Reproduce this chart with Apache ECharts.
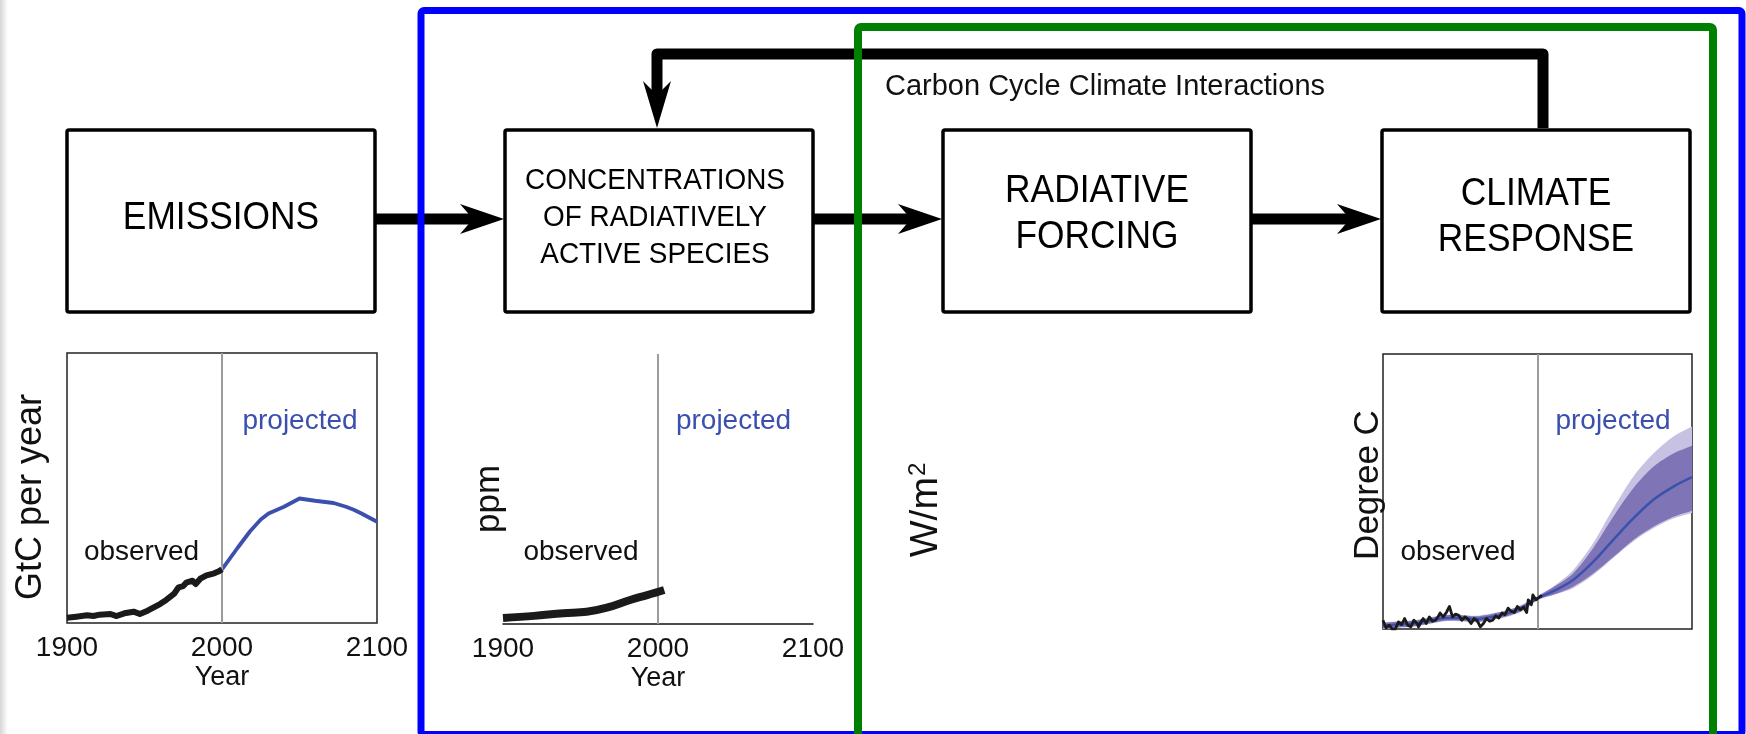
<!DOCTYPE html>
<html>
<head>
<meta charset="utf-8">
<script src="https://cdn.jsdelivr.net/npm/echarts@6/dist/echarts.min.js"></script>
<style>html,body{margin:0;padding:0;background:#fff}#c{width:1746px;height:734px}</style>
</head>
<body>
<div id="c"></div>
<script>
// ---------- DATA ----------
var xTickYears = [1900, 2000, 2100];
// Emissions (GtC per year)
var emisObsYears = [1900,1906,1913,1917,1921,1928,1932,1937,1943,1947,1952,1956,1960,1964,1969,1972,1975,1977,1981,1983,1986,1990,1995,1998,2000];
var emisObsVals  = [0.71,0.84,1.02,0.93,1.11,1.20,0.93,1.29,1.51,1.20,1.64,2.09,2.53,3.07,3.87,4.76,4.93,5.38,5.64,5.20,5.91,6.36,6.62,6.89,7.16];
var emisProjYears = [2000,2010,2018,2025,2030,2040,2050,2060,2072,2080,2085,2090,2100];
var emisProjVals  = [7.16,10.0,12.2,13.8,14.6,15.5,16.6,16.3,16.0,15.5,15.1,14.6,13.5];
// Concentrations (ppm)
var concObsYears = [1900,1920,1939,1954,1967,1982,1993,2004];
var concObsVals  = [296,302,309,313,324,345,358,372];
// Climate response (degree C)
var tempObsYears = [1900,1902,1904,1906,1908,1910,1912,1914,1916,1918,1920,1922,1923,1925,1926,1928,1930,1932,1934,1936,1937,1939,1941,1943,1945,1947,1949,1951,1953,1955,1957,1959,1961,1963,1965,1967,1969,1971,1973,1975,1977,1979,1981,1983,1985,1987,1989,1991,1993,1994,1996,1997,1999,2000,2002,2003];
var tempObsVals  = [-0.44,-0.58,-0.53,-0.60,-0.60,-0.47,-0.52,-0.41,-0.53,-0.56,-0.44,-0.50,-0.56,-0.45,-0.41,-0.50,-0.38,-0.46,-0.44,-0.36,-0.31,-0.38,-0.30,-0.19,-0.38,-0.33,-0.35,-0.44,-0.38,-0.42,-0.50,-0.41,-0.45,-0.56,-0.50,-0.41,-0.46,-0.44,-0.36,-0.40,-0.31,-0.34,-0.22,-0.28,-0.30,-0.19,-0.25,-0.20,-0.30,-0.07,-0.16,0.02,-0.07,-0.05,0.00,-0.01];
var climYears  = [1900,1910,1920,1930,1940,1950,1960,1970,1980,1990,2000,2012,2023,2036,2049,2062,2075,2088,2100];
var climMean   = [-0.54,-0.52,-0.50,-0.45,-0.40,-0.40,-0.42,-0.38,-0.32,-0.22,-0.04,0.11,0.29,0.62,1.02,1.41,1.75,1.99,2.16];
var innerLow   = [-0.59,-0.57,-0.55,-0.50,-0.45,-0.45,-0.47,-0.43,-0.37,-0.27,-0.07,0.04,0.17,0.41,0.71,1.02,1.26,1.44,1.55];
var innerHigh  = [-0.49,-0.47,-0.45,-0.40,-0.35,-0.35,-0.37,-0.33,-0.27,-0.17,-0.01,0.19,0.41,0.87,1.44,1.96,2.35,2.59,2.73];
var outerLow   = [-0.60,-0.58,-0.56,-0.51,-0.46,-0.46,-0.48,-0.44,-0.38,-0.28,-0.08,0.03,0.14,0.38,0.69,0.99,1.23,1.41,1.51];
var outerHigh  = [-0.48,-0.46,-0.44,-0.39,-0.34,-0.34,-0.36,-0.32,-0.26,-0.16,0.00,0.21,0.47,0.96,1.59,2.17,2.59,2.90,3.08];
var boxLabels = [["EMISSIONS"],["CONCENTRATIONS","OF RADIATIVELY","ACTIVE SPECIES"],["RADIATIVE","FORCING"],["CLIMATE","RESPONSE"]];

// ---------- helpers ----------
function pairs(xs, ys){ return xs.map(function(x,i){ return [x, ys[i]]; }); }
function triples(xs, lo, hi){ return xs.map(function(x,i){ return [x, lo[i], hi[i]]; }); }
var FONT = '"Liberation Sans", Arial, Helvetica, sans-serif';
var BLUE_T = '#3b4fae';
var INK = '#111';

var chart = echarts.init(document.getElementById('c'), null, {renderer:'canvas'});

function xAxisCfg(grid, opts){
  return Object.assign({
    gridIndex: grid, type:'value', min:1900, max:2100, interval:100,
    axisTick:{show:false}, splitLine:{show:false},
    axisLine:{show:false},
    axisLabel:{show:true, fontSize:28, color:INK, margin:11, fontFamily:FONT,
      formatter:function(v){ return xTickYears.indexOf(v) >= 0 ? String(v) : ''; }},
    name:'Year', nameLocation:'middle', nameGap:41,
    nameTextStyle:{fontSize:27, color:INK, fontFamily:FONT}
  }, opts || {});
}
var divider = {symbol:'none', silent:true, label:{show:false},
  lineStyle:{color:'#9c9c9c', width:2, type:'solid'}, data:[{xAxis:2000}]};

// band polygon drawn through the axis scales
function bandRenderer(color){
  return function(params, api){
    if (params.dataIndex !== 0) return null;
    var n = params.dataInsideLength || climYears.length;
    var up = [], dn = [];
    var cnt = api.getWidth ? null : null;
    var data = params.context.bandData || null;
    return null;
  };
}
function makeBand(lo, hi, color, z){
  var rows = triples(climYears, lo, hi);
  return {
    type:'custom', xAxisIndex:2, yAxisIndex:2, z:z, silent:true, clip:true,
    data: rows,
    encode:{x:0, y:[1,2]},
    renderItem:function(params, api){
      if (params.dataIndex !== 0) return null;
      var up = [], dn = [];
      for (var i = 0; i < rows.length; i++){
        up.push(api.coord([rows[i][0], rows[i][2]]));
        dn.push(api.coord([rows[i][0], rows[i][1]]));
      }
      var last = rows.length - 1;
      var pts = up.concat([up[last]], [dn[last]], dn.slice().reverse(), [dn[0]], [up[0]]);
      return {type:'polygon', shape:{points:pts, smooth:0.3}, style:{fill:color, stroke:null}};
    }
  };
}

// ---------- graphic ----------
var G = [];
G.push({type:'rect', shape:{x:0,y:0,width:8,height:734}, z:1,
  style:{fill:new echarts.graphic.LinearGradient(0,0,1,0,[{offset:0,color:'#d6d6d6'},{offset:1,color:'#ffffff'}])}});
var boxX = [67, 505, 943, 1382], boxW = 308, boxY = 130, boxH = 182;
boxX.forEach(function(x, i){
  G.push({type:'rect', shape:{x:x, y:boxY, width:boxW, height:boxH, r:2}, z:10,
    style:{fill:'#fff', stroke:'#000', lineWidth:3.5}});
  var lines = boxLabels[i];
  var fs = lines.length === 3 ? 30 : 38;
  var gap = lines.length === 3 ? 37 : 46;
  var cy = i === 0 ? 219 : (i === 1 ? 218 : (i === 2 ? 215 : 218));
  lines.forEach(function(t, k){
    G.push({type:'text', x:x + boxW/2 - (i===1?4:0), y:cy + (k - (lines.length-1)/2)*gap, z:30, scaleX:0.93,
      style:{text:t, x:0, y:0, fill:'#000', font:fs + 'px ' + FONT,
        align:'center', verticalAlign:'middle', textAlign:'center', textVerticalAlign:'middle'}});
  });
});
function arrowH(x0, x1, y){
  G.push({type:'line', shape:{x1:x0, y1:y, x2:x1-30, y2:y}, z:11, style:{stroke:'#000', lineWidth:11}});
  G.push({type:'polygon', shape:{points:[[x1,y],[x1-44,y-15],[x1-31,y],[x1-44,y+15]]}, z:11, style:{fill:'#000'}});
}
arrowH(375, 504, 219);
arrowH(813, 942, 219);
arrowH(1251, 1381, 219);
G.push({type:'polyline', shape:{points:[[1543,128],[1543,54],[657,54],[657,100]]}, z:11,
  style:{stroke:'#000', lineWidth:11, lineJoin:'round', fill:null}});
G.push({type:'polygon', shape:{points:[[657,128],[643,81],[657,95],[671,81]]}, z:11, style:{fill:'#000'}});
G.push({type:'rect', shape:{x:421, y:10.5, width:1321, height:724, r:3}, z:20,
  style:{fill:null, stroke:'#0000ff', lineWidth:7}});
G.push({type:'rect', shape:{x:858, y:27, width:855, height:730, r:3}, z:20,
  style:{fill:null, stroke:'#008000', lineWidth:8}});
function txt(t, x, y, size, color, rot, align){
  G.push({type:'text', x:x, y:y, rotation:rot||0, z:30,
    style:{text:t, x:0, y:0, fill:color, font:size + 'px ' + FONT,
      align:align||'center', verticalAlign:'middle', textAlign:align||'center', textVerticalAlign:'middle'}});
}
txt('Carbon Cycle Climate Interactions', 885, 87, 29, INK, 0, 'left');
txt('GtC per year', 31, 497, 36, INK, Math.PI/2);
txt('ppm', 489, 499, 35, INK, Math.PI/2);
txt('Degree C', 1368, 485, 35, INK, Math.PI/2);
txt('observed', 141.5, 552, 28, INK);
txt('projected', 300, 421, 28, BLUE_T);
txt('observed', 581, 552, 28, INK);
txt('projected', 733.5, 421, 28, BLUE_T);
txt('observed', 1458, 552, 28, INK);
txt('projected', 1613, 421, 28, BLUE_T);
// W/m² with superscript
G.push({type:'text', x:926, y:510, rotation:Math.PI/2, z:30,
  style:{text:'{a|W/m}{b|2}', x:0, y:0, fill:INK, align:'center', verticalAlign:'middle',
    textAlign:'center', textVerticalAlign:'middle',
    rich:{a:{fontSize:39, fontFamily:FONT, fill:INK, color:INK, lineHeight:40, verticalAlign:'bottom'},
          b:{fontSize:24, fontFamily:FONT, fill:INK, color:INK, lineHeight:40, verticalAlign:'top', padding:[0,0,0,1]}}}});

// ---------- option ----------
var option = {
  animation:false,
  backgroundColor:'#ffffff',
  textStyle:{fontFamily:FONT},
  grid:[
    {left:67, top:353, width:310, height:270, show:true, borderColor:'#222', borderWidth:1.5, backgroundColor:'transparent'},
    {left:503, top:354, width:310, height:270, show:false},
    {left:1383, top:354, width:309, height:275, show:true, borderColor:'#222', borderWidth:1.5, backgroundColor:'transparent'}
  ],
  xAxis:[
    xAxisCfg(0),
    xAxisCfg(1, {axisLine:{show:true, onZero:false, lineStyle:{color:'#111', width:1.5}}}),
    xAxisCfg(2, {axisLabel:{show:false}, name:''})
  ],
  yAxis:[
    {gridIndex:0, type:'value', min:0, max:36, show:false},
    {gridIndex:1, type:'value', min:280, max:1010, show:false},
    {gridIndex:2, type:'value', min:-0.6, max:4.4, show:false}
  ],
  series:[
    {name:'Emissions observed', type:'line', xAxisIndex:0, yAxisIndex:0, showSymbol:false, z:5,
      data:pairs(emisObsYears, emisObsVals), lineStyle:{color:'#1a1a1a', width:6, join:'round'}, markLine:divider},
    {name:'Emissions projected', type:'line', xAxisIndex:0, yAxisIndex:0, showSymbol:false, z:4,
      data:pairs(emisProjYears, emisProjVals), lineStyle:{color:'#3a4fae', width:3.8}},
    {name:'Concentration observed', type:'line', xAxisIndex:1, yAxisIndex:1, showSymbol:false, smooth:0.4, z:5,
      data:pairs(concObsYears, concObsVals), lineStyle:{color:'#1a1a1a', width:8, cap:'butt'}, markLine:divider},
    makeBand(outerLow, outerHigh, '#c7c2e2', 2),
    makeBand(innerLow, innerHigh, '#7e74b6', 3),
    {name:'model mean', type:'line', xAxisIndex:2, yAxisIndex:2, showSymbol:false, smooth:0.3, z:4,
      data:pairs(climYears, climMean), lineStyle:{color:'#3b52ad', width:2.5}},
    {name:'Temperature observed', type:'line', xAxisIndex:2, yAxisIndex:2, showSymbol:false, z:5,
      data:pairs(tempObsYears, tempObsVals), lineStyle:{color:'#1a1a1a', width:2.8, join:'round'}, markLine:divider}
  ],
  graphic:{elements:G}
};
chart.setOption(option);
</script>
</body>
</html>
